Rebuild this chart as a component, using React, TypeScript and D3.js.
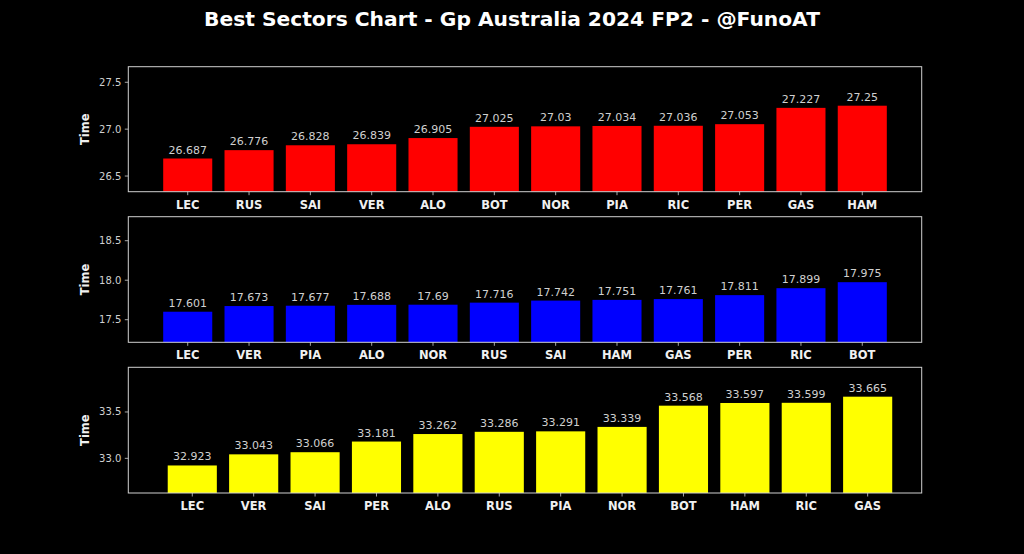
import React from "react";
import * as d3 from "d3";

const s1Drivers = ["LEC", "RUS", "SAI", "VER", "ALO", "BOT", "NOR", "PIA", "RIC", "PER", "GAS", "HAM"];
const s1Times = [26.687, 26.776, 26.828, 26.839, 26.905, 27.025, 27.03, 27.034, 27.036, 27.053, 27.227, 27.25];
const s1Ticks = [26.5, 27.0, 27.5];

const s2Drivers = ["LEC", "VER", "PIA", "ALO", "NOR", "RUS", "SAI", "HAM", "GAS", "PER", "RIC", "BOT"];
const s2Times = [17.601, 17.673, 17.677, 17.688, 17.69, 17.716, 17.742, 17.751, 17.761, 17.811, 17.899, 17.975];
const s2Ticks = [17.5, 18.0, 18.5];

const s3Drivers = ["LEC", "VER", "SAI", "PER", "ALO", "RUS", "PIA", "NOR", "BOT", "HAM", "RIC", "GAS"];
const s3Times = [32.923, 33.043, 33.066, 33.181, 33.262, 33.286, 33.291, 33.339, 33.568, 33.597, 33.599, 33.665];
const s3Ticks = [33.0, 33.5];

const titleText = "Best Sectors Chart - Gp Australia 2024 FP2 - @FunoAT";

type PanelDef = {
  drivers: string[];
  times: number[];
  ticks: number[];
  yDomain: [number, number];
  xDomain: [number, number];
  top: number;
  bottom: number;
  color: string;
};

const LEFT = 128.3;
const RIGHT = 921.7;

const panels: PanelDef[] = [
  { drivers: s1Drivers, times: s1Times, ticks: s1Ticks, yDomain: [26.333, 27.666], xDomain: [-0.969, 11.969], top: 66.7, bottom: 191.7, color: "#ff0000" },
  { drivers: s2Drivers, times: s2Times, ticks: s2Ticks, yDomain: [17.214, 18.804], xDomain: [-0.969, 11.969], top: 216.7, bottom: 342.3, color: "#0000ff" },
  { drivers: s3Drivers, times: s3Times, ticks: s3Ticks, yDomain: [32.626, 33.982], xDomain: [-1.042, 11.88], top: 367.3, bottom: 493, color: "#ffff00" },
];

const GRAY = "#d0d0d0";

function Panel({ p }: { p: PanelDef }) {
  const x = d3.scaleLinear().domain(p.xDomain).range([LEFT, RIGHT]);
  const y = d3.scaleLinear().domain(p.yDomain).range([p.bottom, p.top]);
  const bw = x(0.8) - x(0);
  const midY = (p.top + p.bottom) / 2;
  return (
    <g>
      {p.times.map((t, i) => (
        <g key={i}>
          <rect x={x(i) - bw / 2} y={y(t)} width={bw} height={p.bottom - y(t)} fill={p.color} />
          <text x={x(i)} y={y(t) - 5} textAnchor="middle" fill={GRAY} fontSize={11} fontFamily="DejaVu Sans">
            {String(t)}
          </text>
        </g>
      ))}
      <rect x={LEFT} y={p.top} width={RIGHT - LEFT} height={p.bottom - p.top} fill="none" stroke={GRAY} strokeWidth={1} />
      {p.ticks.map((t) => (
        <g key={t}>
          <line x1={LEFT - 3.5} x2={LEFT} y1={y(t)} y2={y(t)} stroke={GRAY} strokeWidth={0.8} />
          <text x={LEFT - 7} y={y(t)} dy="0.35em" textAnchor="end" fill={GRAY} fontSize={10} fontFamily="DejaVu Sans">
            {t.toFixed(1)}
          </text>
        </g>
      ))}
      {p.drivers.map((d, i) => (
        <g key={d}>
          <line x1={x(i)} x2={x(i)} y1={p.bottom} y2={p.bottom + 3.5} stroke={GRAY} strokeWidth={0.8} />
          <text x={x(i)} y={p.bottom + 17} textAnchor="middle" fill="#f0f0f0" fontSize={11.5} fontWeight="bold" fontFamily="DejaVu Sans">
            {d}
          </text>
        </g>
      ))}
      <text
        transform={`translate(89,${midY}) rotate(-90)`}
        textAnchor="middle"
        fill="#f0f0f0"
        fontSize={11.5}
        fontWeight="bold"
        fontFamily="DejaVu Sans"
      >
        Time
      </text>
    </g>
  );
}

export default function App() {
  return (
    <svg
      width={1024}
      height={554}
      style={{ position: "fixed", left: 0, top: 0, background: "#000" }}
    >
      <rect x={0} y={0} width={1024} height={554} fill="#000" />
      <text
        x={512}
        y={26}
        textAnchor="middle"
        fill="#ffffff"
        fontSize={19}
        fontWeight="bold"
        fontFamily="DejaVu Sans"
        textLength={616}
        lengthAdjust="spacingAndGlyphs"
      >
        {titleText}
      </text>
      {panels.map((p, i) => (
        <Panel key={i} p={p} />
      ))}
    </svg>
  );
}
